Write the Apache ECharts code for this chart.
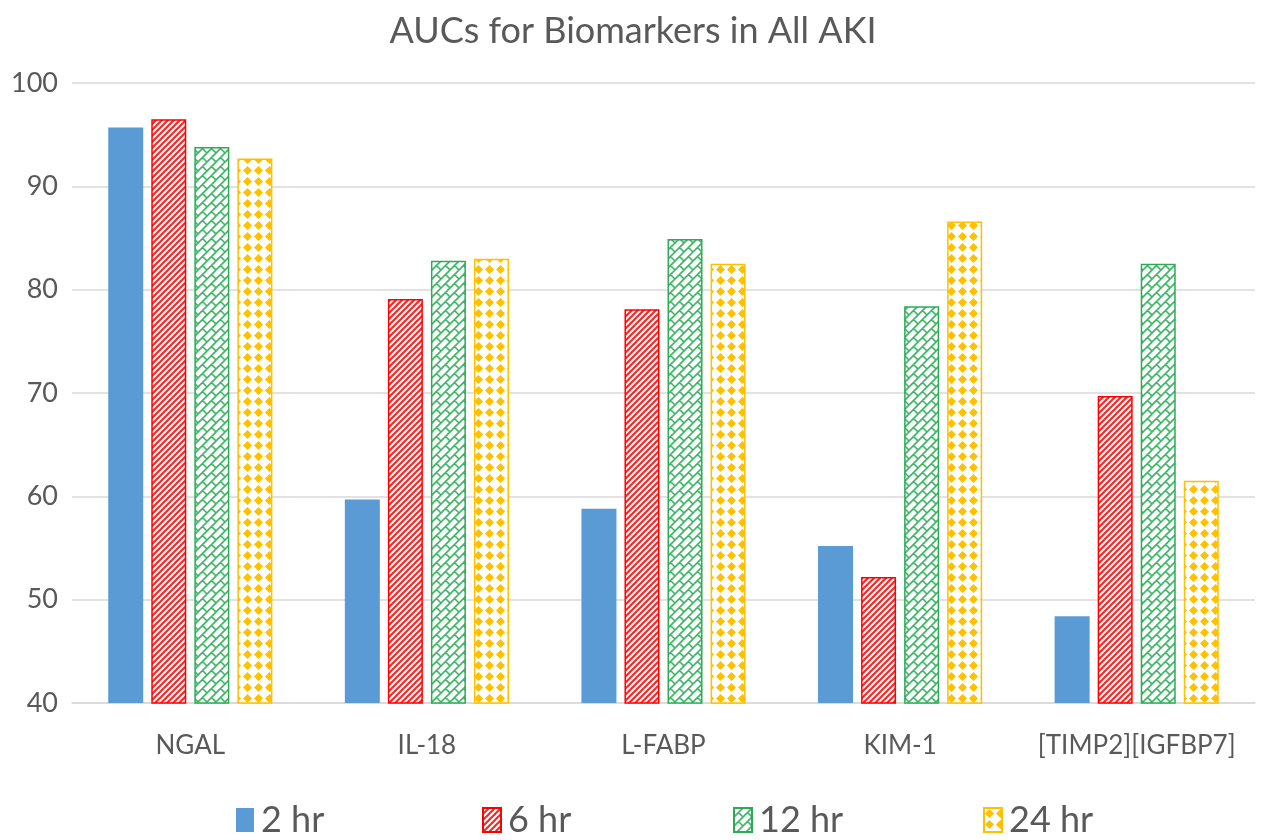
<!DOCTYPE html>
<html>
<head>
<meta charset="utf-8">
<script src="https://cdn.jsdelivr.net/npm/echarts@6/dist/echarts.min.js"></script>
<style>
  html, body { margin: 0; padding: 0; background: #fff; }
  #main { width: 1266px; height: 840px; }
</style>
</head>
<body>
<div id="main"></div>
<script>
// 数据
var categories = ['NGAL', 'IL-18', 'L-FABP', 'KIM-1', '[TIMP2][IGFBP7]'];
var seriesNames = ['2 hr', '6 hr', '12 hr', '24 hr'];
var hr2 = [95.7, 59.7, 58.8, 55.2, 48.4];
var hr6 = [96.5, 79.1, 78.1, 52.2, 69.7];
var hr12 = [93.8, 82.8, 84.9, 78.4, 82.5];
var hr24 = [92.7, 83.0, 82.5, 86.6, 61.5];
var yTicks = [40, 50, 60, 70, 80, 90, 100];

var FONT = 'Lato, "Liberation Sans", sans-serif';
var TXT = '#595959';

// 斜线填充 (6 hr)
function stripePattern() {
  var c = document.createElement('canvas');
  c.width = 6; c.height = 6;
  var g = c.getContext('2d');
  g.fillStyle = '#fff'; g.fillRect(0, 0, 6, 6);
  g.strokeStyle = '#FF2020'; g.lineWidth = 2;
  g.beginPath();
  g.moveTo(-1, 7); g.lineTo(7, -1);
  g.moveTo(-4, 4); g.lineTo(4, -4);
  g.moveTo(2, 10); g.lineTo(10, 2);
  g.stroke();
  return c;
}

// 斜砖块填充 (12 hr)
function brickPattern() {
  var s = 9, t = s * 2;
  var c = document.createElement('canvas');
  c.width = t; c.height = t;
  var g = c.getContext('2d');
  g.fillStyle = '#fff'; g.fillRect(0, 0, t, t);
  g.strokeStyle = '#3DB665'; g.lineWidth = 1.6;
  g.beginPath();
  // "/" 方向的长线
  for (var k = 0; k <= 4; k++) {
    var d = k * s;
    g.moveTo(-2, d + 2); g.lineTo(d + 2, -2);
  }
  // "\" 方向的短线 (砖缝)
  var segs = [
    [s/2, -s/2, s, 0], [-s/2, s/2, 0, s],
    [s/2, s/2, s, s], [s*1.5, -s/2, t, 0], [-s/2, s*1.5, 0, t],
    [s*1.5, s/2, t, s], [s/2, s*1.5, s, t],
    [s*1.5, s*1.5, t, t]
  ];
  segs.forEach(function (p) { g.moveTo(p[0], p[1]); g.lineTo(p[2], p[3]); });
  g.stroke();
  return c;
}

// 菱形点填充 (24 hr)
function diamondPattern() {
  var t = 11;
  var c = document.createElement('canvas');
  c.width = t; c.height = t;
  var g = c.getContext('2d');
  g.fillStyle = '#fff'; g.fillRect(0, 0, t, t);
  g.fillStyle = '#FFC000';
  g.beginPath();
  g.moveTo(5.5, 1); g.lineTo(10, 5.5); g.lineTo(5.5, 10); g.lineTo(1, 5.5);
  g.closePath();
  g.fill();
  return c;
}

var chart = echarts.init(document.getElementById('main'));

var styles = [
  { color: '#5B9BD5', borderColor: '#5B9BD5', borderWidth: 0 },
  { color: { image: stripePattern(), repeat: 'repeat' }, borderColor: '#FF0000', borderWidth: 1.5 },
  { color: { image: brickPattern(), repeat: 'repeat' }, borderColor: '#2EAA57', borderWidth: 1.5 },
  { color: { image: diamondPattern(), repeat: 'repeat' }, borderColor: '#FFC000', borderWidth: 1.5 }
];
var values = [hr2, hr6, hr12, hr24];
var legendLeft = [231, 477, 728, 978];

var option = {
  backgroundColor: '#fff',
  animation: false,
  title: {
    text: 'AUCs for Biomarkers in All AKI',
    left: 'center',
    top: 8,
    textStyle: { fontFamily: FONT, fontSize: 36, fontWeight: 'normal', color: TXT }
  },
  legend: seriesNames.map(function (n, i) {
    return {
      data: [n],
      left: legendLeft[i],
      top: 797,
      icon: 'rect',
      itemWidth: 18,
      itemHeight: 24,
      itemGap: 0,
      textStyle: { fontFamily: FONT, fontSize: 36, color: TXT, padding: [0, 0, 0, 2] }
    };
  }),
  grid: { left: 72, right: 11, top: 83, bottom: 137 },
  xAxis: {
    type: 'category',
    data: categories,
    axisLine: { lineStyle: { color: '#D9D9D9', width: 1.5 } },
    axisTick: { show: false },
    axisLabel: { interval: 0, fontFamily: FONT, fontSize: 26, color: TXT, margin: 30 }
  },
  yAxis: {
    type: 'value',
    min: yTicks[0],
    max: yTicks[yTicks.length - 1],
    interval: 10,
    axisLine: { show: false },
    axisTick: { show: false },
    splitLine: { lineStyle: { color: '#D9D9D9', width: 1.5 } },
    axisLabel: { fontFamily: FONT, fontSize: 27, color: TXT, margin: 14 }
  },
  series: seriesNames.map(function (n, i) {
    return {
      name: n,
      type: 'bar',
      data: values[i],
      barWidth: 35,
      barGap: '23%',
      itemStyle: styles[i]
    };
  })
};

chart.setOption(option);
</script>
</body>
</html>
